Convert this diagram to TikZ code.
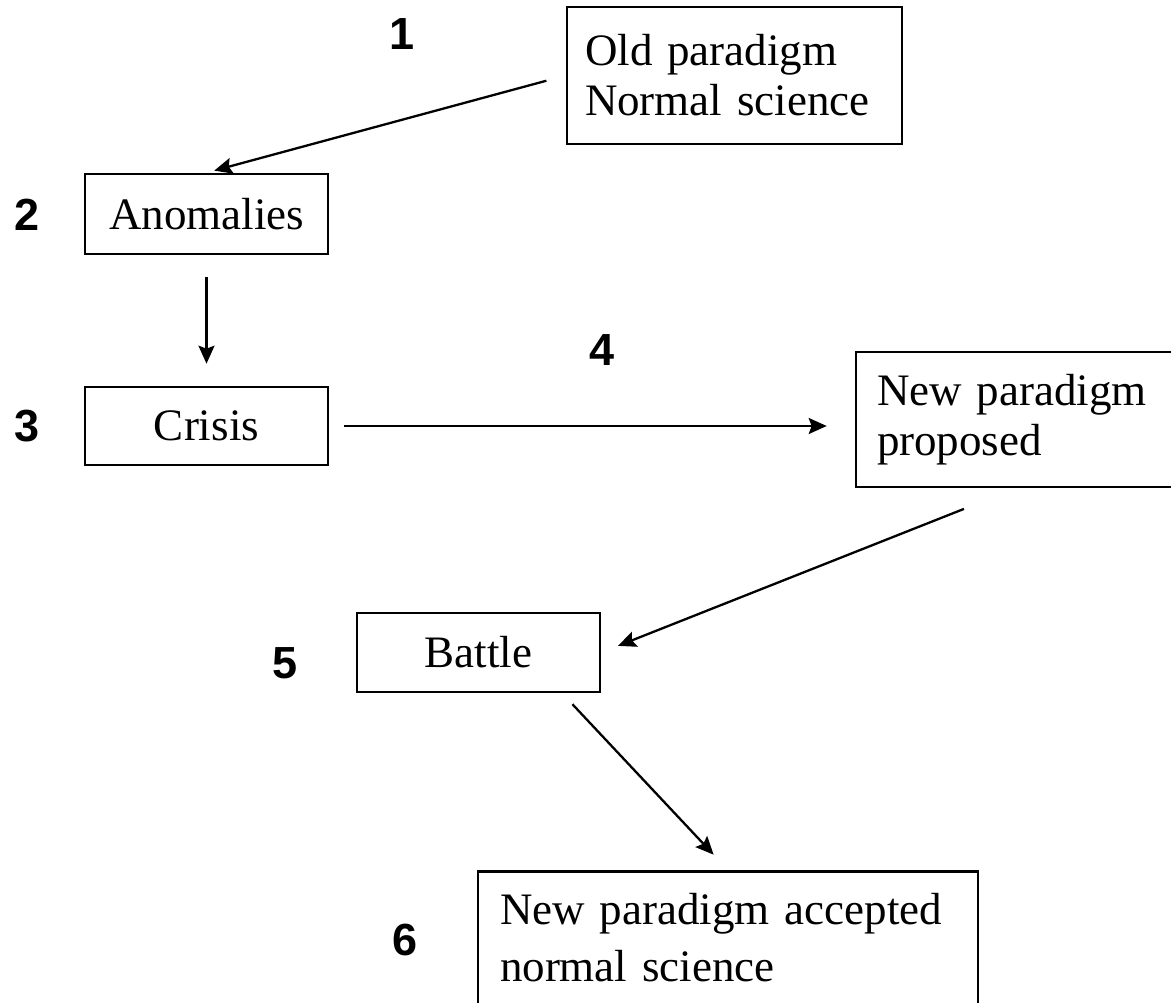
\documentclass[tikz,border=0pt]{standalone}
\usepackage{fontspec}
\setmainfont{Liberation Serif}
\newfontfamily\numfont{Liberation Sans}
\usetikzlibrary{arrows.meta}

\tikzset{
  stage/.style={draw, line width=2.6pt, font=\fontsize{45}{50}\selectfont},
  stepnum/.style={font=\numfont\bfseries\fontsize{45}{45}\selectfont},
  flow/.style={line width=2.3pt, -{Stealth[length=18pt, width=16pt, inset=3pt]}}
}

\begin{document}
\begin{tikzpicture}[x=1pt, y=-1pt]

\useasboundingbox (0,0) rectangle (1171,1003);
\clip (0,0) rectangle (1171,1003);

\node [stage, text width=299pt, inner xsep=18pt, align=left, minimum height=137pt] (old) at (734.5,75.5) {Old paradigm\\Normal science};
\node [stage, minimum width=243pt, minimum height=80pt] (anom) at (206.5,214) {Anomalies};
\node [stage, minimum width=243pt, minimum height=78pt] (crisis) at (206.5,426) {Crisis};
\node [stage, text width=278pt, inner xsep=21pt, align=left, minimum height=135pt] (newp) at (1016,419.5) {New paradigm\\proposed};
\node [stage, minimum width=243pt, minimum height=79pt] (battle) at (478.5,652.5) {Battle};
\node [stage, anchor=north, text width=456pt, inner xsep=22pt, inner ysep=22pt, align=left,
       text height=31pt, text depth=120pt, font=\fontsize{45}{57}\selectfont] (accept) at (728,870) {New paradigm accepted\\normal science};

\node [stepnum] (l1) at (402,34) {1};
\node [stepnum] (l2) at (27,215) {2};
\node [stepnum] (l3) at (27,426) {3};
\node [stepnum] (l4) at (602,350) {4};
\node [stepnum] (l5) at (285,663) {5};
\node [stepnum] (l6) at (405,940) {6};

\begin{scope}[flow]
\draw [shorten <=20pt, shorten >=8pt] (old.west) -- (anom.north); %1-2
\draw [shorten <=22pt, shorten >=22pt] (anom.south) -- (crisis.north); %2-3
\draw [shorten <=15pt, shorten >=28pt] (crisis.east) -- (crisis.east -| newp.west); %3-4
\draw [shorten <=56pt, shorten >=18pt] (newp.south) -- (battle.east); %4-5
\draw [shorten <=15pt, shorten >=21pt] (battle.334) -- (accept.north); %5-6
\end{scope}

\end{tikzpicture}
\end{document}
